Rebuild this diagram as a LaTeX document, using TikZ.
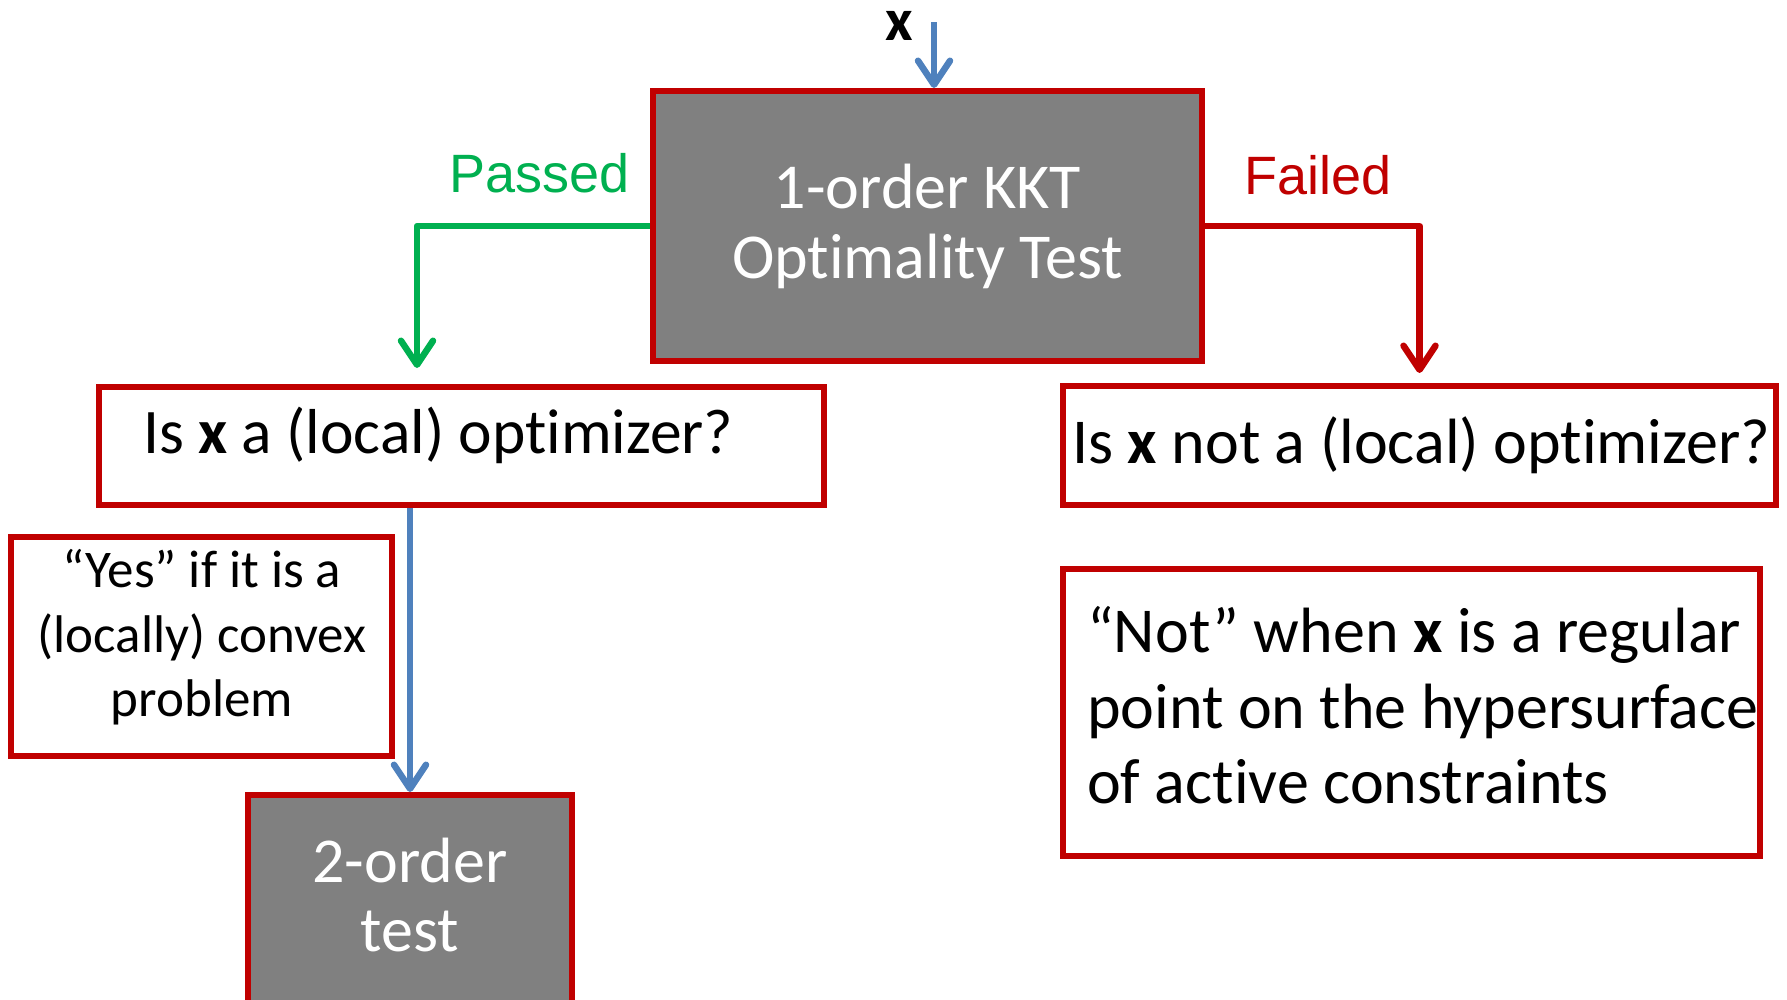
\documentclass[tikz,border=0pt]{standalone}
\usepackage{fontspec}
\setmainfont{Carlito}[Ligatures=NoCommon]
\newfontfamily\labelfont{Liberation Sans}
\usetikzlibrary{arrows.meta}
\definecolor{boxred}{RGB}{192,0,0}
\definecolor{boxgray}{RGB}{128,128,128}
\definecolor{passgreen}{RGB}{0,176,80}
\definecolor{flowblue}{RGB}{79,129,189}
\begin{document}
\begin{tikzpicture}[x=1pt,y=-1pt,
  testbox/.style={rectangle, draw=boxred, fill=boxgray, line width=6pt, inner sep=0pt},
  notebox/.style={rectangle, draw=boxred, fill=white, line width=6pt, inner sep=0pt},
  txt/.style={inner sep=0pt, anchor=base},
  txtl/.style={inner sep=0pt, anchor=base west},
  flow/.style={line width=6.5pt, line join=round,
    -{Straight Barb[length=24pt,width=32pt,line cap=round,line join=round]}}]
\useasboundingbox (0,0) rectangle (1787,999);
\clip (0,0) rectangle (1787,999);

% boxes
\node[testbox, minimum width=549pt, minimum height=270pt] (kkt) at (927.5,226) {};
\node[notebox, minimum width=725pt, minimum height=118pt] (isopt) at (461.5,446) {};
\node[notebox, minimum width=713pt, minimum height=119pt] (notopt) at (1419.5,445.5) {};
\node[notebox, minimum width=381pt, minimum height=219pt] (yes) at (201.5,646.5) {};
\node[testbox, minimum width=324pt, minimum height=240pt] (second) at (410,915) {};
\node[notebox, minimum width=697pt, minimum height=287pt] (regular) at (1411.5,712.5) {};

% texts
\node[txt, text=white, font=\fontsize{64}{70}\selectfont] (kkt1) at (927.5,208) {1-order KKT};
\node[txt, text=white, font=\fontsize{64}{70}\selectfont] (kkt2) at (927.5,278) {Optimality Test};
\node[txtl, font=\fontsize{63.5}{74}\selectfont] (isoptt) at (143,453) {Is \textbf{x} a (local) optimizer?};
\node[txtl, font=\fontsize{64}{75}\selectfont] (notoptt) at (1072,463) {Is \textbf{x} not a (local) optimizer?};
\node[txt, font=\fontsize{53}{64}\selectfont] (yes1) at (202,587) {“Yes” if it is a};
\node[txt, font=\fontsize{53}{64}\selectfont] (yes2) at (202,652) {(locally) convex};
\node[txt, font=\fontsize{53}{64}\selectfont] (yes3) at (202,716) {problem};
\node[txt, text=white, font=\fontsize{64}{70}\selectfont] (second1) at (410,882) {2-order};
\node[txt, text=white, font=\fontsize{64}{70}\selectfont] (second2) at (410,951) {test};
\node[txtl, font=\fontsize{64}{75}\selectfont] (reg1) at (1087,652) {“Not” when \textbf{x} is a regular};
\node[txtl, font=\fontsize{64}{75}\selectfont] (reg2) at (1087,728) {point on the hypersurface};
\node[txtl, font=\fontsize{64}{75}\selectfont] (reg3) at (1087,803) {of active constraints};
\node[txt, text height=29pt, text depth=0pt, font=\bfseries\fontsize{60}{70}\selectfont] (xin) at (899,40) {x};
\node[txtl, text=passgreen, font=\labelfont\fontsize{54}{60}\selectfont] (passed) at (449,192) {Passed};
\node[txtl, text=boxred, font=\labelfont\fontsize{54}{60}\selectfont] (failed) at (1244,194) {Failed};

% connectors
\coordinate (xstart) at (934,22);
\coordinate (passend) at (417,368);
\draw[flow, flowblue] (xstart) -- (xstart |- kkt.north);
\draw[flow, passgreen] (kkt.west) -| (passend);
\draw[flow, boxred] (kkt.east) -| ([yshift=10pt]notopt.north);
\draw[flow, flowblue] (second.north |- isopt.south) -- (second.north);
\end{tikzpicture}
\end{document}
